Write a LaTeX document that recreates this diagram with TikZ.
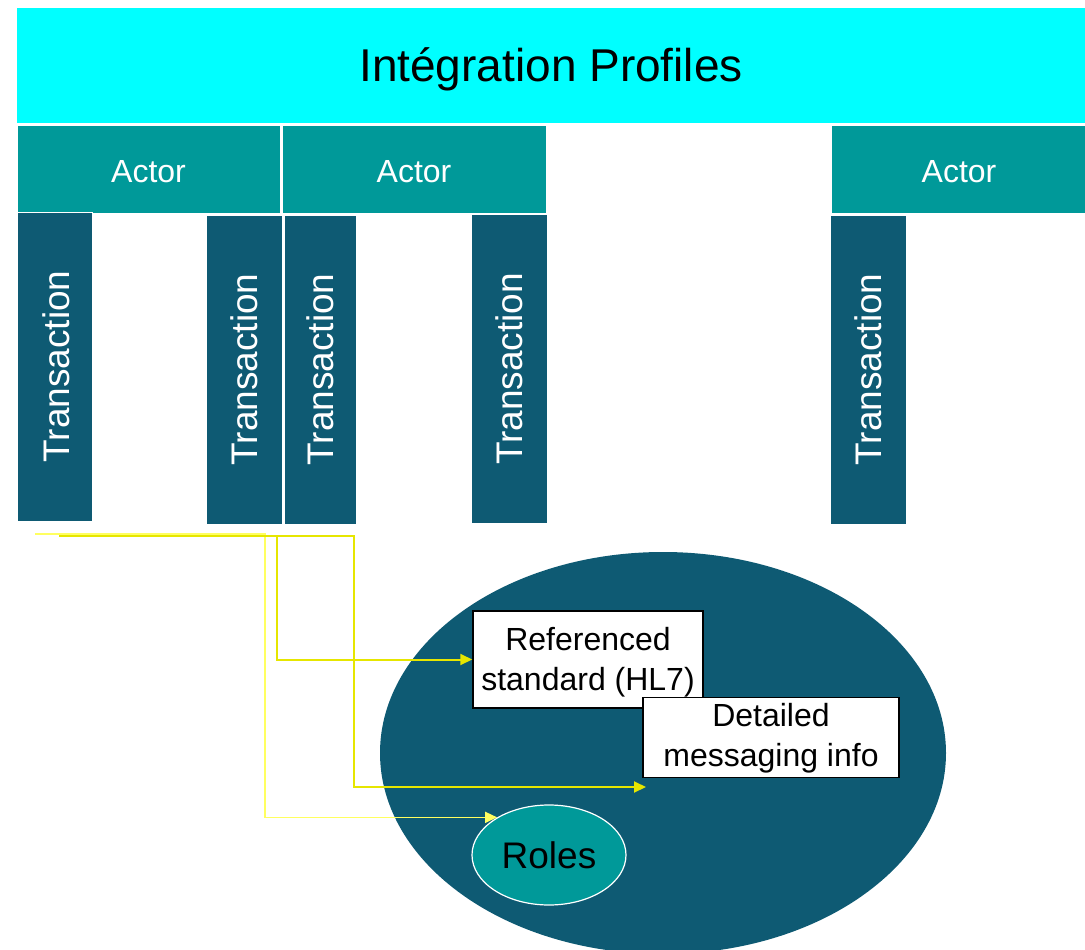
\documentclass[tikz,border=0pt]{standalone}
\usepackage{fontspec}
\setmainfont{Liberation Sans}
\usetikzlibrary{shapes.geometric,arrows.meta}
\definecolor{cyanb}{HTML}{00FFFF}
\definecolor{teal1}{HTML}{009999}
\definecolor{navy1}{HTML}{0E5A73}
\definecolor{ylight}{HTML}{FFFF60}
\definecolor{ydark}{HTML}{E6E600}
\newcommand{\lowerby}[2]{\raisebox{-#1}[\height][\depth]{#2}}
\newcommand{\twolines}[2]{\begin{tabular}{@{}c@{}}#1\\#2\end{tabular}}
\begin{document}
\begin{tikzpicture}[x=1pt,y=-1pt,
  actorbox/.style={rectangle, fill=teal1, draw=white, line width=1pt, inner sep=0pt,
     minimum height=88pt, text=white, font=\fontsize{32}{38}\selectfont},
  transbox/.style={rectangle, fill=navy1, draw=white, line width=1pt, inner sep=0pt,
     rotate=90, minimum width=309pt, text=white, font=\fontsize{37}{44}\selectfont},
  infobox/.style={rectangle, fill=white, draw=black, line width=1.5pt, inner sep=0pt,
     font=\fontsize{32}{40}\selectfont},
  lightlink/.style={draw=ylight, line width=1.3pt, -{Triangle[length=12pt,width=11pt]}},
  darklink/.style={draw=ydark, line width=2pt, -{Triangle[length=12pt,width=11pt]}}
]
\useasboundingbox (0,0) rectangle (1085,950);
\begin{scope}
\clip (0,0) rectangle (1085,950);
\node[ellipse, fill=navy1, inner sep=0pt, minimum width=566pt, minimum height=402pt] (oval) at (663,753) {};
\end{scope}

\node[rectangle, fill=cyanb, inner sep=0pt, minimum width=1068pt, minimum height=115pt,
      font=\fontsize{46}{55}\selectfont] (title) at (551,65.5) {\lowerby{4pt}{Intégration Profiles}};

\node[actorbox, minimum width=263pt] (a1) at (148.5,169) {\lowerby{2.5pt}{Actor}};
\node[actorbox, minimum width=264pt] (a2) at (414,169) {\lowerby{2.5pt}{Actor}};
\node[actorbox, minimum width=256pt] (a3) at (959,169) {\lowerby{2.5pt}{Actor}};

\node[transbox, minimum height=75pt] (t1) at (54.5,366.5) {\lowerby{1.5pt}{Transaction}};
\node[transbox, minimum height=76pt] (t2) at (244,369.5) {Transaction};
\node[transbox, minimum height=72pt] (t3) at (320,369.5) {Transaction};
\node[transbox, minimum height=76pt] (t4) at (509,369) {Transaction};
\node[transbox, minimum height=76pt] (t5) at (868,369.5) {Transaction};

\node[infobox, minimum width=230pt, minimum height=97pt] (ref) at (588,659.5) {\lowerby{3pt}{\twolines{Referenced}{standard (HL7)}}};
\node[infobox, minimum width=256pt, minimum height=77pt] (det) at (771,737.5) {\lowerby{1pt}{\twolines{Detailed}{messaging info}}};

\node[ellipse, fill=teal1, draw=white, line width=1.2pt, inner sep=0pt,
      minimum width=154pt, minimum height=100pt, font=\fontsize{37}{44}\selectfont] (roles) at (549,855) {Roles};

\coordinate (s1) at (35,534);
\coordinate (s2) at (59,536);
\coordinate (b1) at (265,534);
\coordinate (b2) at (277,536);
\coordinate (b3) at (354,536);
\coordinate (dend) at (646,787);

\draw[lightlink] (s1) -- (b1) |- (roles.144);
\draw[darklink] (s2) -- (b2) |- (ref.west);
\draw[darklink] (b2) -- (b3) |- (dend);
\end{tikzpicture}
\end{document}
